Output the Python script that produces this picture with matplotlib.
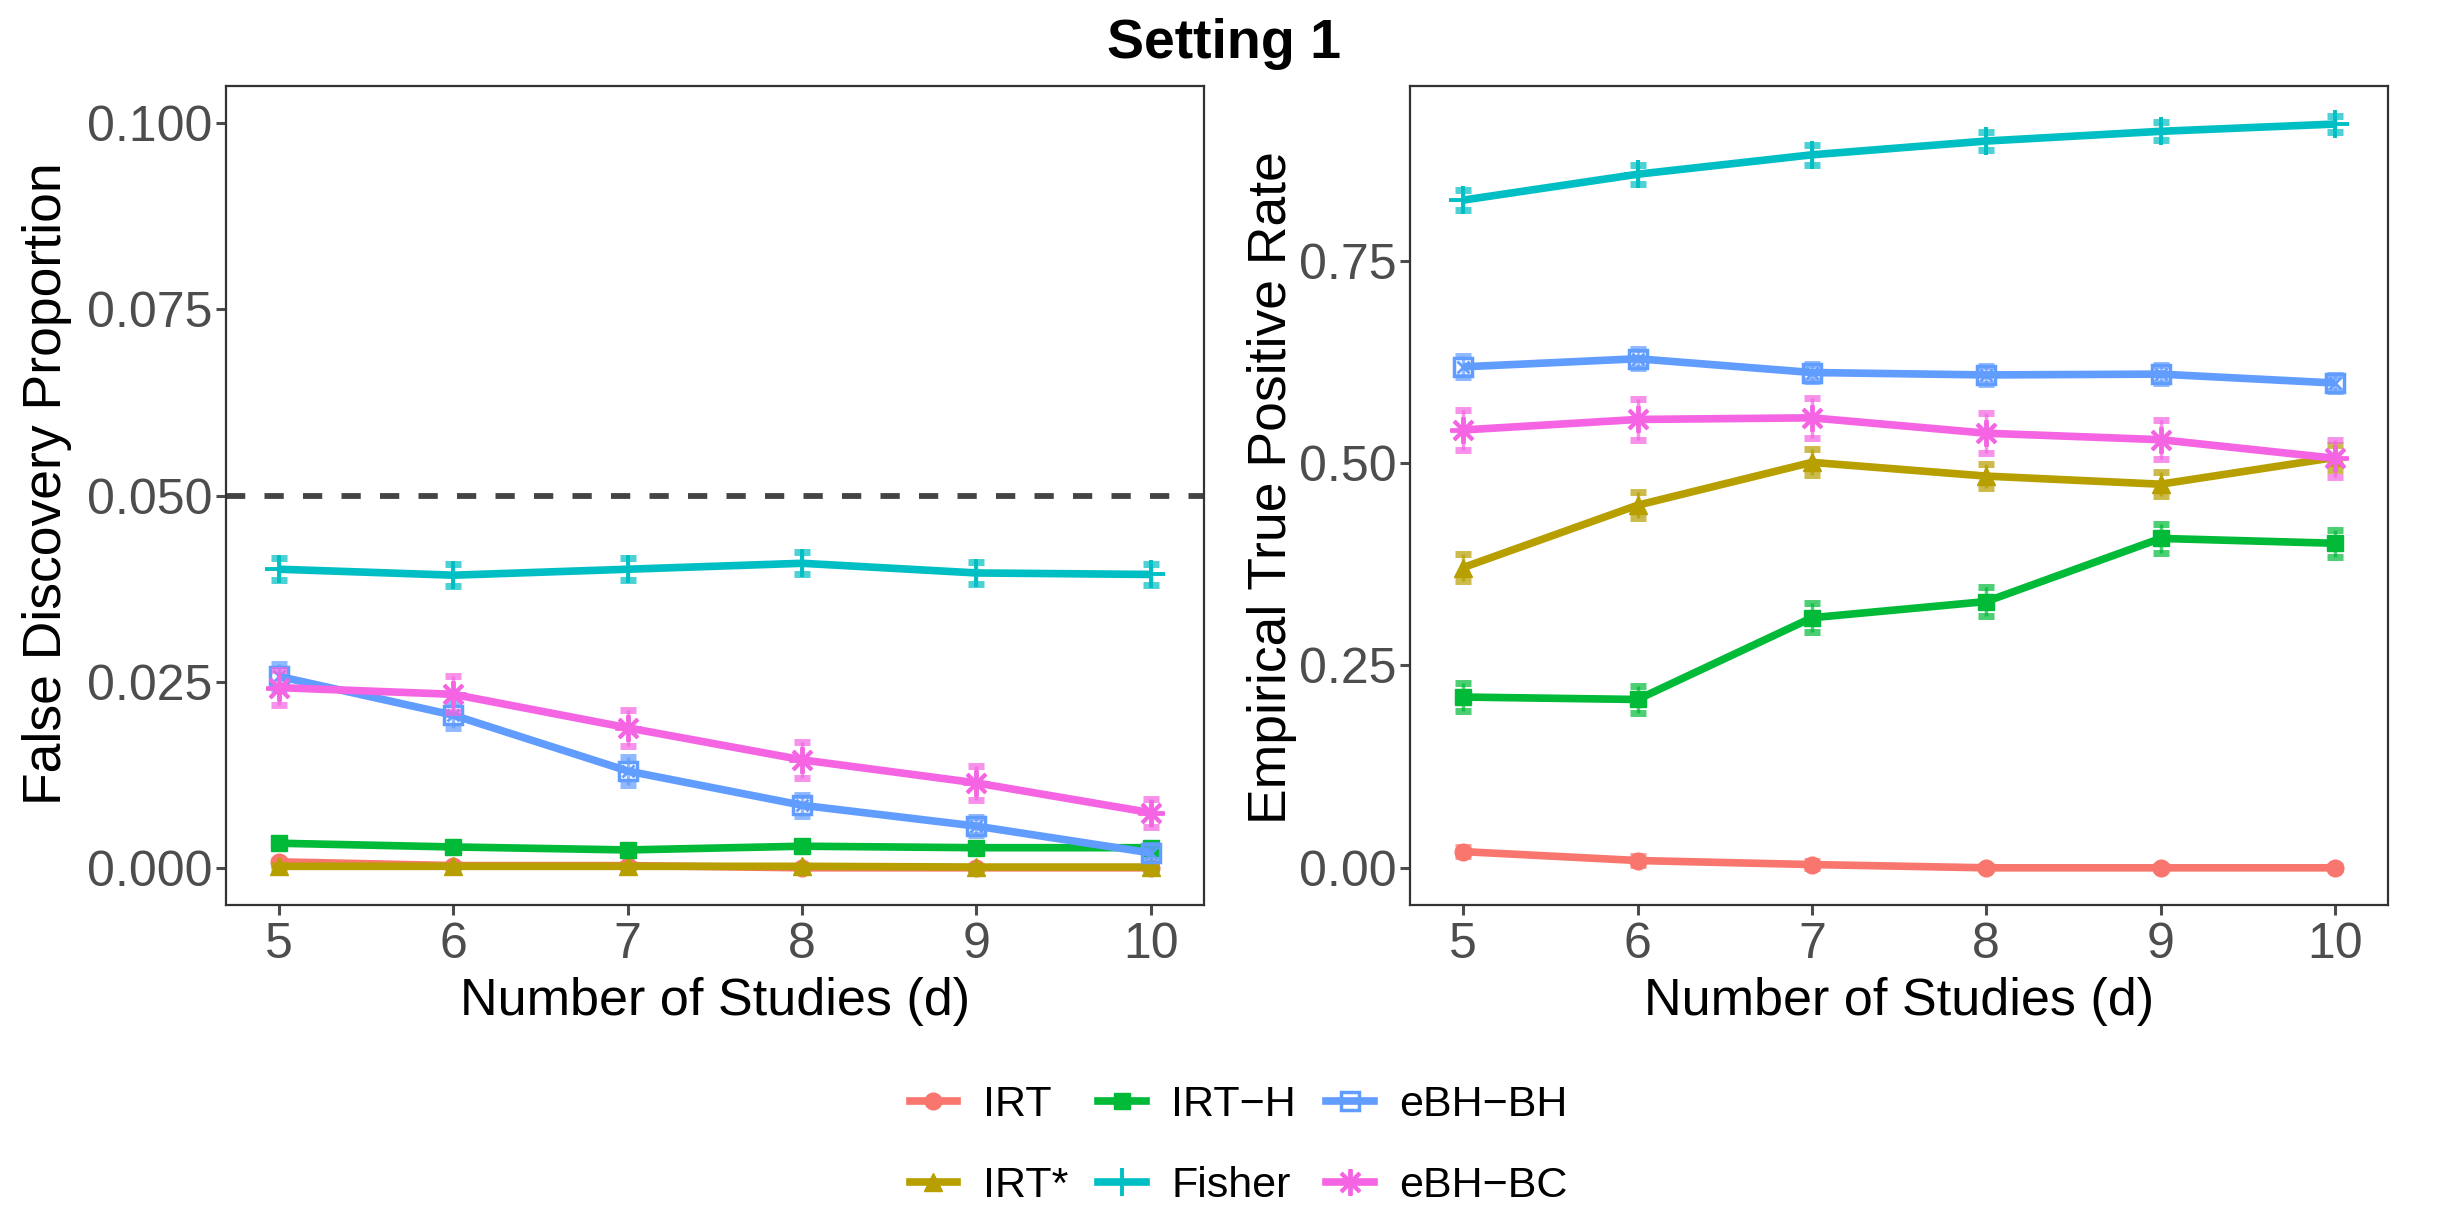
import matplotlib
matplotlib.use("Agg")
import matplotlib.pyplot as plt
from matplotlib.lines import Line2D
import numpy as np

plt.rcParams['font.family'] = ['Liberation Sans', 'DejaVu Sans']

# number of studies
d = [5, 6, 7, 8, 9, 10]

methods = ["IRT", "IRT*", "IRT\u2212H", "Fisher", "eBH\u2212BH", "eBH\u2212BC"]
colors = ["#F8766D", "#B79F00", "#00BA38", "#00BFC4", "#619CFF", "#F564E3"]

# false discovery proportion (left panel)
fdp_irt = [0.0008, 0.0003, 0.0003, 0.0000, 0.0000, 0.0000]
fdp_irt_star = [0.0002, 0.0002, 0.0002, 0.0002, 0.0001, 0.0001]
fdp_irt_h = [0.0033, 0.0028, 0.0024, 0.0029, 0.0027, 0.0027]
fdp_fisher = [0.0401, 0.0393, 0.0401, 0.0409, 0.0396, 0.0394]
fdp_ebh_bh = [0.0257, 0.0205, 0.0130, 0.0084, 0.0056, 0.0020]
fdp_ebh_bc = [0.0242, 0.0233, 0.0188, 0.0145, 0.0114, 0.0074]

fdp_err_irt = [0.0003, 0.0002, 0.0002, 0.0001, 0.0001, 0.0001]
fdp_err_irt_star = [0.0002, 0.0001, 0.0001, 0.0001, 0.0001, 0.0001]
fdp_err_irt_h = [0.0005, 0.0005, 0.0004, 0.0005, 0.0005, 0.0005]
fdp_err_fisher = [0.0015, 0.0015, 0.0015, 0.0015, 0.0015, 0.0014]
fdp_err_ebh_bh = [0.0017, 0.0017, 0.0019, 0.0014, 0.0012, 0.0010]
fdp_err_ebh_bc = [0.0023, 0.0024, 0.0024, 0.0024, 0.0023, 0.0019]

# empirical true positive rate (right panel)
tpr_irt = [0.020, 0.009, 0.004, 0.000, 0.000, 0.000]
tpr_irt_star = [0.371, 0.448, 0.501, 0.484, 0.474, 0.507]
tpr_irt_h = [0.211, 0.208, 0.309, 0.329, 0.407, 0.401]
tpr_fisher = [0.825, 0.857, 0.881, 0.898, 0.910, 0.919]
tpr_ebh_bh = [0.619, 0.629, 0.612, 0.609, 0.610, 0.599]
tpr_ebh_bc = [0.541, 0.554, 0.556, 0.537, 0.529, 0.506]

tpr_err_irt = [0.006, 0.005, 0.004, 0.002, 0.002, 0.002]
tpr_err_irt_star = [0.017, 0.016, 0.016, 0.015, 0.015, 0.015]
tpr_err_irt_h = [0.017, 0.017, 0.018, 0.018, 0.018, 0.017]
tpr_err_fisher = [0.012, 0.012, 0.012, 0.011, 0.011, 0.010]
tpr_err_ebh_bh = [0.013, 0.012, 0.011, 0.011, 0.011, 0.010]
tpr_err_ebh_bc = [0.025, 0.025, 0.025, 0.025, 0.024, 0.023]

fdp = [fdp_irt, fdp_irt_star, fdp_irt_h, fdp_fisher, fdp_ebh_bh, fdp_ebh_bc]
fdp_err = [fdp_err_irt, fdp_err_irt_star, fdp_err_irt_h, fdp_err_fisher, fdp_err_ebh_bh, fdp_err_ebh_bc]
tpr = [tpr_irt, tpr_irt_star, tpr_irt_h, tpr_fisher, tpr_ebh_bh, tpr_ebh_bc]
tpr_err = [tpr_err_irt, tpr_err_irt_star, tpr_err_irt_h, tpr_err_fisher, tpr_err_ebh_bh, tpr_err_ebh_bc]

# ggplot default shapes 16, 17, 15, 3, 7, 8
markers = ["o", "^", "s", "+", "s", (8, 2, 0)]
msizes = [12, 13, 11, 20, 13, 19]

LW = 5.5
TICK_COL = "#4D4D4D"


def draw_marker(ax, x, y, i, z):
    c = colors[i]
    if i == 4:
        # square with a cross inside
        ax.plot(x, y, ls="none", marker="s", ms=msizes[i], mfc="none", mec=c, mew=2.5, zorder=z)
        ax.plot(x, y, ls="none", marker="x", ms=msizes[i] * 0.7, mec=c, mew=2.0, zorder=z)
    elif i in (3, 5):
        ax.plot(x, y, ls="none", marker=markers[i], ms=msizes[i], mec=c, mew=2.8, zorder=z)
    else:
        ax.plot(x, y, ls="none", marker=markers[i], ms=msizes[i], mfc=c, mec=c, zorder=z)


def panel(ax, vals, errs):
    for i in range(len(methods)):
        c = colors[i]
        z = 3 + i
        ax.errorbar(d, vals[i], yerr=errs[i], fmt="none", ecolor=c, alpha=0.7,
                    elinewidth=2.5, capsize=5.5, capthick=5, zorder=z)
        ax.plot(d, vals[i], color=c, lw=LW, solid_capstyle="butt", zorder=z)
        draw_marker(ax, d, vals[i], i, z)
    ax.set_xlim(4.695, 10.305)
    ax.set_xticks(d)
    ax.tick_params(axis="both", labelsize=36, colors=TICK_COL, length=7, width=2.2)
    ax.tick_params(axis="y", pad=3)
    ax.tick_params(axis="x", pad=5)
    for s in ax.spines.values():
        s.set_color("#333333")
        s.set_linewidth(1.6)
    ax.set_xlabel("Number of Studies (d)", fontsize=37.5, color="black", va="center")
    ax.xaxis.set_label_coords(0.5, -0.118)


fig = plt.figure(figsize=(24.48, 12.08), dpi=100)
ax1 = fig.add_axes([0.0923, 0.2508, 0.3995, 0.678])
ax2 = fig.add_axes([0.576, 0.2508, 0.3995, 0.678])

panel(ax1, fdp, fdp_err)
ax1.axhline(0.05, color="#444444", lw=4.2, dashes=(3.3, 3.3), zorder=2)
ax1.set_ylim(-0.005, 0.105)
ax1.set_yticks([0.0, 0.025, 0.05, 0.075, 0.1])
ax1.set_yticklabels(["0.000", "0.025", "0.050", "0.075", "0.100"])
ax1.set_ylabel("False Discovery Proportion", fontsize=38.5, color="black", va="center", ha="center")
ax1.yaxis.set_label_coords(-0.183, 0.515)

panel(ax2, tpr, tpr_err)
ax2.set_ylim(-0.046, 0.966)
ax2.set_yticks([0.0, 0.25, 0.5, 0.75])
ax2.set_yticklabels(["0.00", "0.25", "0.50", "0.75"])
ax2.set_ylabel("Empirical True Positive Rate", fontsize=38.5, color="black", va="center", ha="center")
ax2.yaxis.set_label_coords(-0.141, 0.51)

fig.text(0.5, 0.9636, "Setting 1", fontsize=40, fontweight="bold", ha="center", va="center")

# legend
handles = []
for i in range(len(methods)):
    c = colors[i]
    if i == 4:
        h = Line2D([], [], color=c, lw=LW, marker="s", ms=msizes[i], mfc="none", mec=c, mew=2.5)
    elif i in (3, 5):
        h = Line2D([], [], color=c, lw=LW, marker=markers[i], ms=msizes[i], mec=c, mew=2.8)
    else:
        h = Line2D([], [], color=c, lw=LW, marker=markers[i], ms=msizes[i], mfc=c, mec=c)
    handles.append(h)

fig.legend(handles, methods, loc="center", bbox_to_anchor=(0.506, 0.0515), ncol=3,
           frameon=False, fontsize=31, handlelength=1.1, handletextpad=0.6,
           columnspacing=0.7, labelspacing=0.95)

fig.savefig("out.png", dpi=100)
